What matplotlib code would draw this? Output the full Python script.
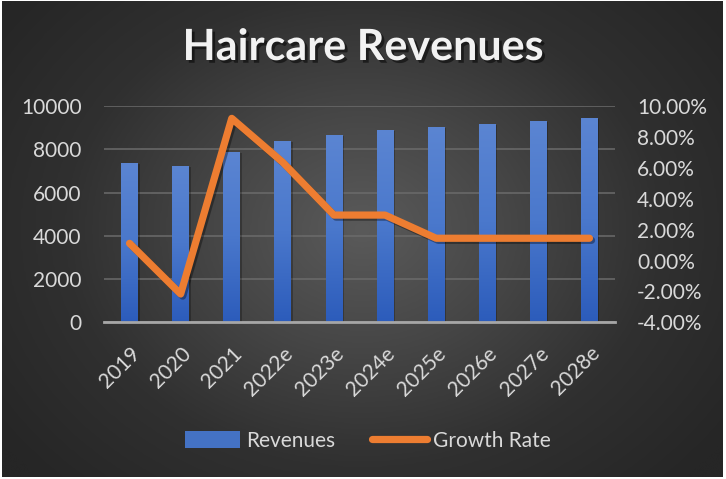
import numpy as np
import matplotlib
matplotlib.use("Agg")
import matplotlib.pyplot as plt
import matplotlib.patheffects as pe
from matplotlib.ticker import FuncFormatter, MultipleLocator
from matplotlib.colors import LinearSegmentedColormap
from matplotlib.patches import Patch
from matplotlib.lines import Line2D

years = ["2019", "2020", "2021", "2022e", "2023e", "2024e", "2025e", "2026e", "2027e", "2028e"]
revenues = [7370, 7230, 7870, 8380, 8660, 8890, 9030, 9170, 9310, 9450]
growth_rate = [0.0111, -0.0217, 0.0920, 0.0635, 0.0294, 0.0294, 0.0144, 0.0144, 0.0144, 0.0144]

plt.rcParams["font.family"] = ["Lato", "DejaVu Sans"]

W, H = 726, 479
fig = plt.figure(figsize=(W / 100, H / 100), dpi=100, facecolor="white")

# dark radial-gradient backdrop inside a thin white frame
bg = fig.add_axes([2 / W, 2 / H, (W - 5) / W, (H - 3) / H])
bg.set_axis_off()
yy, xx = np.mgrid[0:1:300j, 0:1:450j]
r = np.sqrt(((xx - 0.50) / 0.62) ** 2 + ((yy - 0.48) / 0.75) ** 2)
r = np.clip(r, 0, 1)
bg_cmap = LinearSegmentedColormap.from_list("bg", ["#5a5a5a", "#464646", "#303030", "#262626"])
bg.imshow(r, cmap=bg_cmap, vmin=0, vmax=1, aspect="auto", extent=[0, 1, 0, 1], interpolation="bicubic")
bg.set_xlim(0, 1)
bg.set_ylim(0, 1)

ax = fig.add_axes([104 / W, 1 - 322.3 / H, (615 - 104) / W, (322.3 - 106) / H])
ax.patch.set_alpha(0)
x = np.arange(len(years))

bars = ax.bar(x, revenues, width=0.33, color="#4472C4", zorder=2)

# vertical gradient fill for each bar, with a soft drop shadow
bar_cmap = LinearSegmentedColormap.from_list("bar", ["#2c5cbb", "#4a78cc", "#5b85d2"])
grad = np.linspace(0, 1, 128).reshape(-1, 1)
for b in bars:
    x0, w, h = b.get_x(), b.get_width(), b.get_height()
    ax.add_patch(plt.Rectangle((x0 + 0.03, 0), w, h * 0.995, facecolor="black",
                               alpha=0.25, zorder=1.5, linewidth=0))
    im = ax.imshow(grad, cmap=bar_cmap, origin="lower", aspect="auto",
                   extent=[x0, x0 + w, 0, h], zorder=2.1)
    im.set_clip_path(b)
    b.set_facecolor("none")

ax.set_xlim(-0.5, len(years) - 0.5)
ax.set_ylim(0, 10000)
ax.yaxis.set_major_locator(MultipleLocator(2000))
ax.grid(axis="y", color="#6b6b6b", linewidth=1.1, zorder=0)
ax.set_axisbelow(True)
for s in ["top", "right", "left"]:
    ax.spines[s].set_visible(False)
ax.spines["bottom"].set_color("#a6a6a6")
ax.spines["bottom"].set_linewidth(2)
ax.spines["bottom"].set_zorder(3)

ax.set_xticks(x)
ax.set_xticklabels(years, rotation=45, ha="right", va="top", rotation_mode="anchor",
                   fontsize=15, color="#d9d9d9")
ax.tick_params(axis="x", length=0, pad=15)
ax.tick_params(axis="y", length=0, pad=16, labelsize=15, labelcolor="#d9d9d9")

ax2 = ax.twinx()
ax2.set_ylim(-0.04, 0.10)
ax2.yaxis.set_major_locator(MultipleLocator(0.02))
ax2.yaxis.set_major_formatter(FuncFormatter(lambda v, p: f"{v * 100:.2f}%"))
ax2.tick_params(axis="y", length=0, pad=16, labelsize=15, labelcolor="#d9d9d9")
for s in ax2.spines.values():
    s.set_visible(False)

ax2.plot(x, growth_rate, color="#ED7D31", linewidth=5.2, solid_capstyle="round",
         solid_joinstyle="round", zorder=4,
         path_effects=[pe.SimpleLineShadow(offset=(1.5, -1.5), alpha=0.35, shadow_color="black"),
                       pe.Normal()])

fig.text(363 / W, 1 - 47 / H, "Haircare Revenues", ha="center", va="center",
         fontsize=31, fontweight="bold", color="#f2f2f2",
         path_effects=[pe.withSimplePatchShadow(offset=(2, -2), alpha=0.5, shadow_rgbFace="black")])

# legend
handles = [Patch(facecolor="#4472C4", edgecolor="none"),
           Line2D([0], [0], color="#ED7D31", linewidth=5.2, solid_capstyle="round")]
fig.legend(handles, ["Revenues", "Growth Rate"], loc="center",
           bbox_to_anchor=(368 / W, 1 - 441 / H), ncol=2, frameon=False,
           fontsize=15, labelcolor="#d9d9d9", handlelength=2.6, handleheight=0.9,
           handletextpad=0.3, columnspacing=1.8)

fig.savefig("out.png", dpi=100, facecolor="white")
